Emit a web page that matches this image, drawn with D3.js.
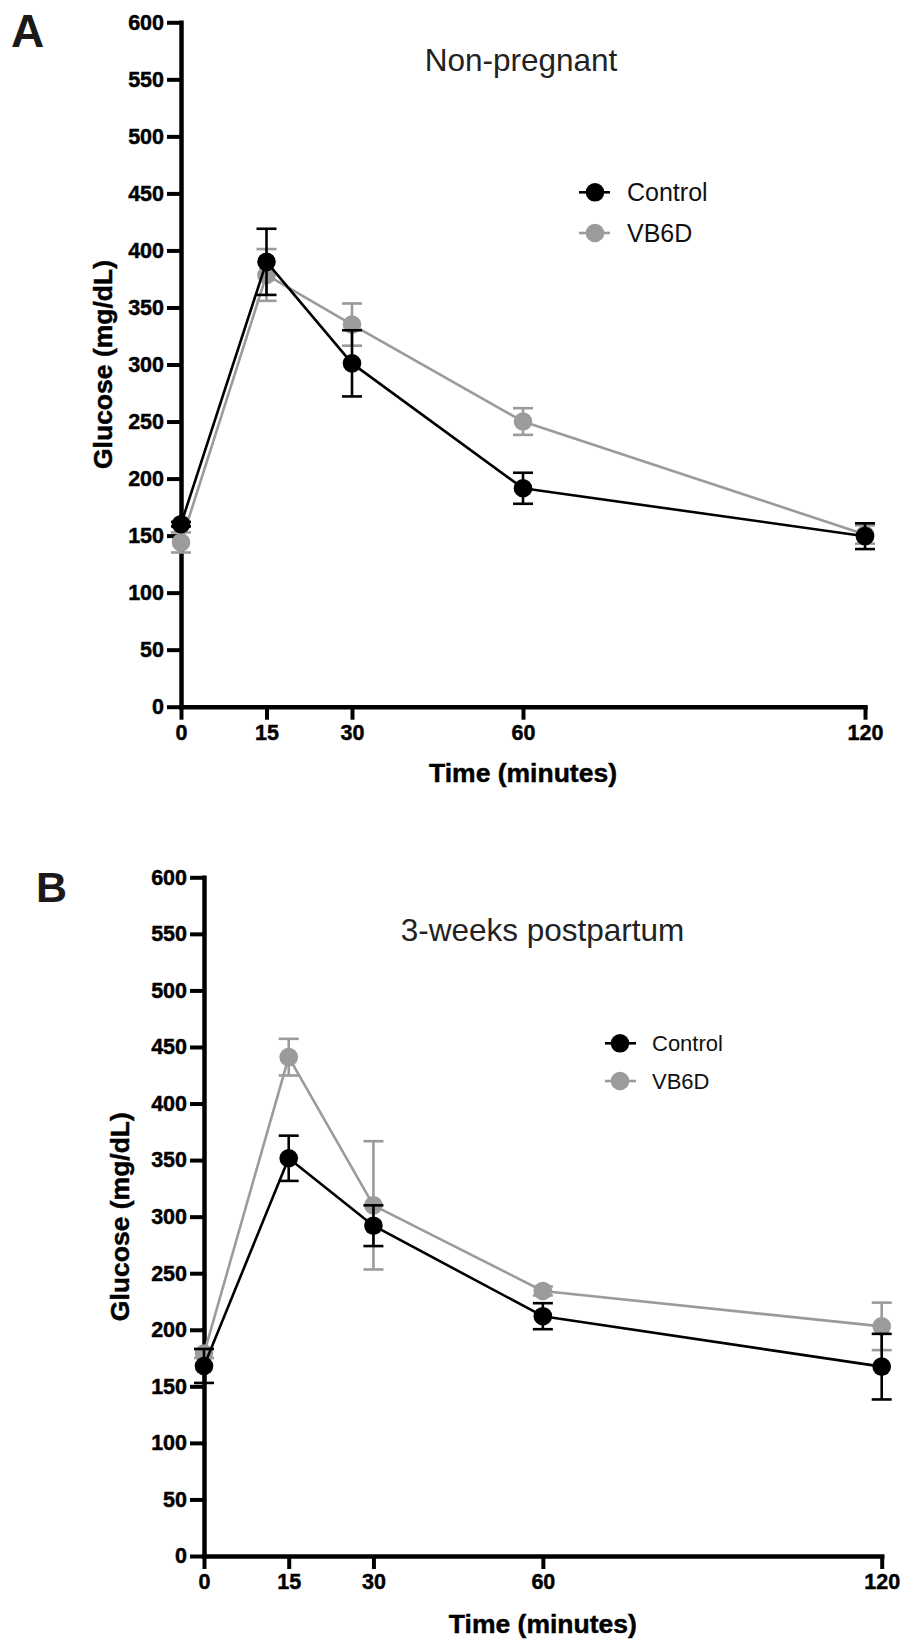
<!DOCTYPE html>
<html>
<head>
<meta charset="utf-8">
<script src="https://cdn.jsdelivr.net/npm/d3@7"></script>
<style>
  html, body { margin: 0; padding: 0; background: #fff; }
  svg { display: block; }
  text { font-family: "Liberation Sans", Arial, Helvetica, sans-serif; }
</style>
</head>
<body>
<svg id="chart" width="900" height="1642"></svg>
<script>
// ---------- data ----------
const times = [0, 15, 30, 60, 120];
const xTickValues = [0, 15, 30, 60, 120];
const yTickValues = [0, 50, 100, 150, 200, 250, 300, 350, 400, 450, 500, 550, 600];
const seriesNames = ["Control", "VB6D"];

// Panel A: Non-pregnant
const controlA = [160, 390, 301, 191.5, 149.5];
const controlA_sem = [2, 29, 29, 13.6, 11.3];
const vb6dA = [144, 378.5, 335, 250, 151];
const vb6dA_sem = [8.8, 22.7, 18.5, 11.7, 8];

// Panel B: 3-weeks postpartum
const controlB = [168, 351.6, 292, 212, 167.4];
const controlB_sem = [15, 20, 18, 11.5, 29];
const vb6dB = [179, 441, 310, 234.3, 203];
const vb6dB_sem = [4, 16.2, 56.7, 4, 21];

// ---------- layout ----------
const colors = { "Control": "#000000", "VB6D": "#9b9b9b" };

const panels = [
  {
    letter: "A", letterX: 11, letterY: 47, letterSize: 46,
    title: "Non-pregnant", titleX: 521, titleY: 71,
    x0: 181, x1: 865, yBottom: 706.7, yTop: 22.3,
    xLabelY: 740, xTitleY: 782, yTitleX: 112,
    legendLine: [579, 610], legendCx: 595, legendY: [192.3, 233], legendTextX: 627, legendFont: 25,
    series: [
      { name: "VB6D", values: vb6dA, sem: vb6dA_sem },
      { name: "Control", values: controlA, sem: controlA_sem }
    ]
  },
  {
    letter: "B", letterX: 36, letterY: 902, letterSize: 43,
    title: "3-weeks postpartum", titleX: 542.5, titleY: 940.5,
    x0: 204, x1: 881.7, yBottom: 1556, yTop: 877.3,
    xLabelY: 1589, xTitleY: 1633, yTitleX: 129,
    legendLine: [605, 636], legendCx: 620, legendY: [1043.3, 1081], legendTextX: 652, legendFont: 22,
    series: [
      { name: "VB6D", values: vb6dB, sem: vb6dB_sem },
      { name: "Control", values: controlB, sem: controlB_sem }
    ]
  }
];

const svg = d3.select("#chart");

function heavy(sel) {
  return sel.attr("font-weight", "bold").attr("stroke", "#000").attr("stroke-width", 0.45).attr("paint-order", "stroke");
}

panels.forEach(p => {
  const g = svg.append("g");
  const x = d3.scaleLinear().domain([0, 120]).range([p.x0, p.x1]);
  const y = d3.scaleLinear().domain([0, 600]).range([p.yBottom, p.yTop]);

  // panel letter
  g.append("text")
    .attr("x", p.letterX).attr("y", p.letterY)
    .attr("font-size", p.letterSize).attr("font-weight", "bold")
    .attr("fill", "#1a1a1a")
    .text(p.letter);

  // title
  g.append("text")
    .attr("x", p.titleX).attr("y", p.titleY)
    .attr("text-anchor", "middle")
    .attr("font-size", 31.5).attr("fill", "#222")
    .text(p.title);

  // axes
  const yAxis = d3.axisLeft(y).tickValues(yTickValues).tickSize(14).tickSizeOuter(0).tickPadding(3);
  const xAxis = d3.axisBottom(x).tickValues(xTickValues).tickSize(13).tickSizeOuter(0).tickPadding(4);

  const gy = g.append("g").attr("transform", `translate(${p.x0},0)`).call(yAxis);
  const gx = g.append("g").attr("transform", `translate(0,${p.yBottom})`).call(xAxis);

  [gx, gy].forEach(ax => {
    ax.select(".domain").attr("stroke", "#000").attr("stroke-width", 4.5).attr("stroke-linecap", "square");
    ax.selectAll(".tick line").attr("stroke", "#000").attr("stroke-width", 4);
    heavy(ax.selectAll(".tick text")
      .attr("fill", "#000")
      .attr("font-size", 21.5)
      .attr("font-family", '"Liberation Sans", Arial, Helvetica, sans-serif'));
  });
  gx.selectAll(".tick text").attr("dy", null).attr("y", p.xLabelY - p.yBottom);

  // axis titles
  heavy(g.append("text")
    .attr("x", (p.x0 + p.x1) / 2).attr("y", p.xTitleY)
    .attr("text-anchor", "middle")
    .attr("font-size", 26.5))
    .text("Time (minutes)");

  heavy(g.append("text")
    .attr("transform", `translate(${p.yTitleX},${(p.yBottom + p.yTop) / 2}) rotate(-90)`)
    .attr("text-anchor", "middle")
    .attr("font-size", 26.5))
    .text("Glucose (mg/dL)");

  // series
  const line = d3.line().x((d, i) => x(times[i])).y(d => y(d));
  p.series.forEach(s => {
    const c = colors[s.name];
    const sg = g.append("g");
    sg.append("path")
      .datum(s.values)
      .attr("d", line)
      .attr("fill", "none")
      .attr("stroke", c)
      .attr("stroke-width", 2.6)
      .attr("stroke-linejoin", "round");

    const eb = sg.selectAll(".eb").data(s.values).enter().append("g");
    eb.append("line")
      .attr("x1", (d, i) => x(times[i])).attr("x2", (d, i) => x(times[i]))
      .attr("y1", (d, i) => y(d - s.sem[i])).attr("y2", (d, i) => y(d + s.sem[i]))
      .attr("stroke", c).attr("stroke-width", 2.6);
    eb.append("line")
      .attr("x1", (d, i) => x(times[i]) - 10).attr("x2", (d, i) => x(times[i]) + 10)
      .attr("y1", (d, i) => y(d + s.sem[i])).attr("y2", (d, i) => y(d + s.sem[i]))
      .attr("stroke", c).attr("stroke-width", 2.6);
    eb.append("line")
      .attr("x1", (d, i) => x(times[i]) - 10).attr("x2", (d, i) => x(times[i]) + 10)
      .attr("y1", (d, i) => y(d - s.sem[i])).attr("y2", (d, i) => y(d - s.sem[i]))
      .attr("stroke", c).attr("stroke-width", 2.6);

    sg.selectAll(".pt").data(s.values).enter().append("circle")
      .attr("cx", (d, i) => x(times[i]))
      .attr("cy", d => y(d))
      .attr("r", 9.3)
      .attr("fill", c);
  });

  // legend
  seriesNames.forEach((name, k) => {
    const c = colors[name];
    const ly = p.legendY[k];
    g.append("line")
      .attr("x1", p.legendLine[0]).attr("x2", p.legendLine[1])
      .attr("y1", ly).attr("y2", ly)
      .attr("stroke", c).attr("stroke-width", 2.6);
    g.append("circle")
      .attr("cx", p.legendCx).attr("cy", ly).attr("r", 9.3).attr("fill", c);
    g.append("text")
      .attr("x", p.legendTextX).attr("y", ly)
      .attr("dy", "0.35em")
      .attr("font-size", p.legendFont)
      .attr("fill", "#111")
      .text(name);
  });
});
</script>
</body>
</html>
